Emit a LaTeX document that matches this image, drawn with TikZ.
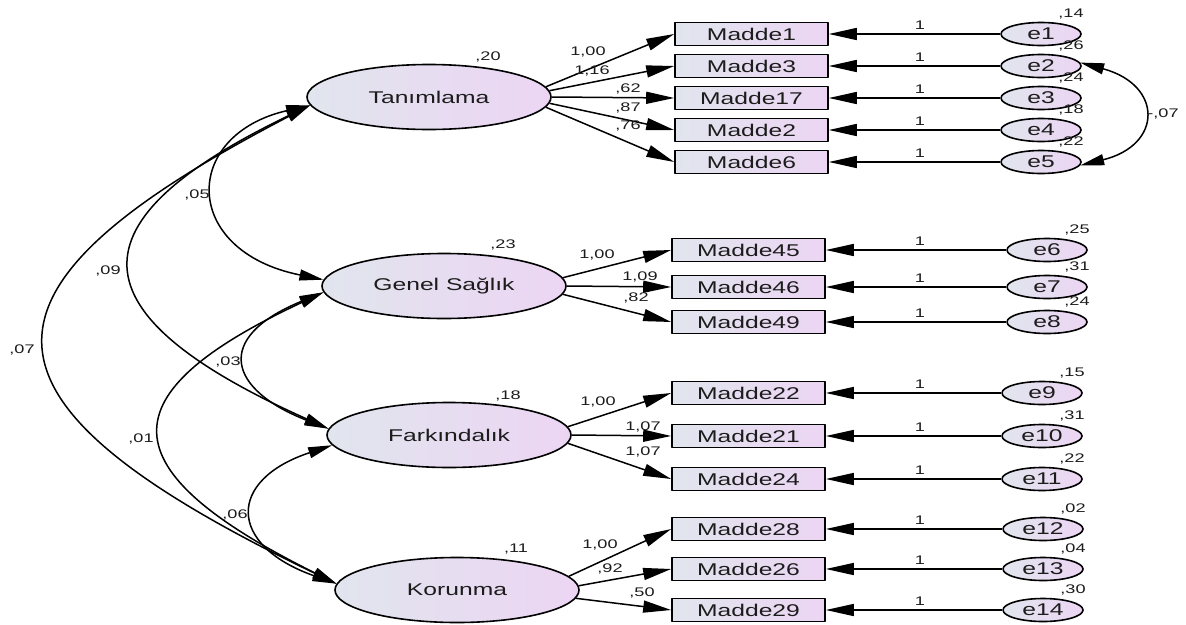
\documentclass[tikz,border=0pt]{standalone}
\usepackage{fontspec}
\newfontfamily\amos[FakeStretch=1.45]{Liberation Sans}
\usetikzlibrary{shapes.geometric, arrows.meta, positioning}
\definecolor{shadeL}{RGB}{225,229,238}
\definecolor{shadeR}{RGB}{236,213,243}
\definecolor{ink}{RGB}{28,28,28}
\tikzset{
  sem/.style={
	x=1pt, y=-1pt, % picture measured in pixels, y downwards
	line join=round,
	text=ink,
  },
  latent/.style={ellipse, draw, line width=1.6pt, left color=shadeL, right color=shadeR,
	minimum width=244pt, minimum height=65pt, inner sep=1pt,
	font=\amos\fontsize{17}{20}\selectfont},
  item/.style={rectangle, draw, line width=1.6pt, left color=shadeL, right color=shadeR,
	minimum width=153pt, minimum height=23pt, inner sep=0pt,
	font=\amos\fontsize{17}{20}\selectfont},
  err/.style={ellipse, draw, line width=1.6pt, left color=shadeL, right color=shadeR,
	minimum width=80pt, minimum height=23pt, inner sep=1pt,
	font=\amos\fontsize{17}{20}\selectfont},
  est/.style={inner sep=0pt, font=\amos\fontsize{12.5}{14}\selectfont}, % estimates
  load/.style={-{Triangle[length=28pt, width=12pt]}, line width=1.5pt}, % one-headed paths
  cov/.style={{Triangle[length=24pt, width=11pt]}-{Triangle[length=24pt, width=11pt]}, line width=1.5pt}, % two-headed paths
}
\begin{document}
\begin{tikzpicture}[sem]
\useasboundingbox (0,0) rectangle (1186,624);

% latent factors
\node[latent] (tan) at (429,97) {Tanımlama};
\node[latent] (gen) at (444,286) {Genel Sağlık};
\node[latent] (fark) at (449,435) {Farkındalık};
\node[latent] (kor) at (457,590) {Korunma};
\node[est] (vtan) at (488,57) {,20};
\node[est] (vgen) at (503,245) {,23};
\node[est] (vfark) at (508,396) {,18};
\node[est] (vkor) at (516,549) {,11};

% items with their error terms
\foreach \n/\t/\y/\xb/\xe/\v in {1/1/34/751.5/1041/14, 2/3/66/751.5/1041/26,
	3/17/98/751.5/1041/24, 4/2/130/751.5/1041/18, 5/6/162/751.5/1041/22,
	6/45/250/748.5/1047/25, 7/46/287/748.5/1047/31, 8/49/322/748.5/1047/24,
	9/22/393/748.5/1042/15, 10/21/436/748.5/1042/31, 11/24/479/748.5/1042/22,
	12/28/529/748.5/1043/02, 13/26/569/748.5/1043/04, 14/29/610/748.5/1043/30}{
  \node[item] (m\n) at (\xb,\y) {Madde\t};
  \node[err] (e\n) at (\xe,\y) {e\n};
  \node[est] (v\n) at (\xe+30,\y-20) {,\v};
  \node[est] (o\n) at (920,\y-9) {1};
  \draw[load] (e\n) -- (m\n);
}

% factor loadings
\foreach \f/\n/\a/\lx/\ly/\w in {tan/1/5/588/52/{1,00}, tan/2/3/592/71/{1,16},
	tan/3/0/628/89/{,62}, tan/4/-3/628/108/{,87}, tan/5/-5/628/126/{,76},
	gen/6/4/597/255/{1,00}, gen/7/0/640/277/{1,09}, gen/8/-4/636/298/{,82},
	fark/9/4/598/402/{1,00}, fark/10/0/643/427/{1,07}, fark/11/-4/643/452/{1,07},
	kor/12/7/600/545/{1,00}, kor/13/2/610/569/{,92}, kor/14/-4/642/593/{,50}}{
  \draw[load] (\f.\a) -- (m\n.west);
  \node[est] (l\n) at (\lx,\ly) {\w};
}

% covariances
\draw[cov] (tan.184) .. controls (181,135) and (181,251) .. (gen.177);
\draw[cov] (tan.184) .. controls (70,221) and (70,313) .. (fark.177);
\draw[cov] (tan.184) .. controls (-45,290) and (-45,400) .. (kor.177);
\draw[cov] (gen.183) .. controls (212,338) and (229,390) .. (fark.177);
\draw[cov] (gen.183) .. controls (106,394) and (106,469) .. (kor.177);
\draw[cov] (fark.185) .. controls (227,480) and (227,545) .. (kor.177);
\draw[cov] (e2.5) .. controls (1163,85) and (1163,145) .. (e5.-5);
\node[est] (c1) at (197,195) {,05};
\node[est] (c2) at (108,271) {,09};
\node[est] (c3) at (22,350) {,07};
\node[est] (c4) at (228,362) {,03};
\node[est] (c5) at (141,439) {,01};
\node[est] (c6) at (235,515) {,06};
\node[est] (ce) at (1163,114) {-,07};
\end{tikzpicture}
\end{document}
